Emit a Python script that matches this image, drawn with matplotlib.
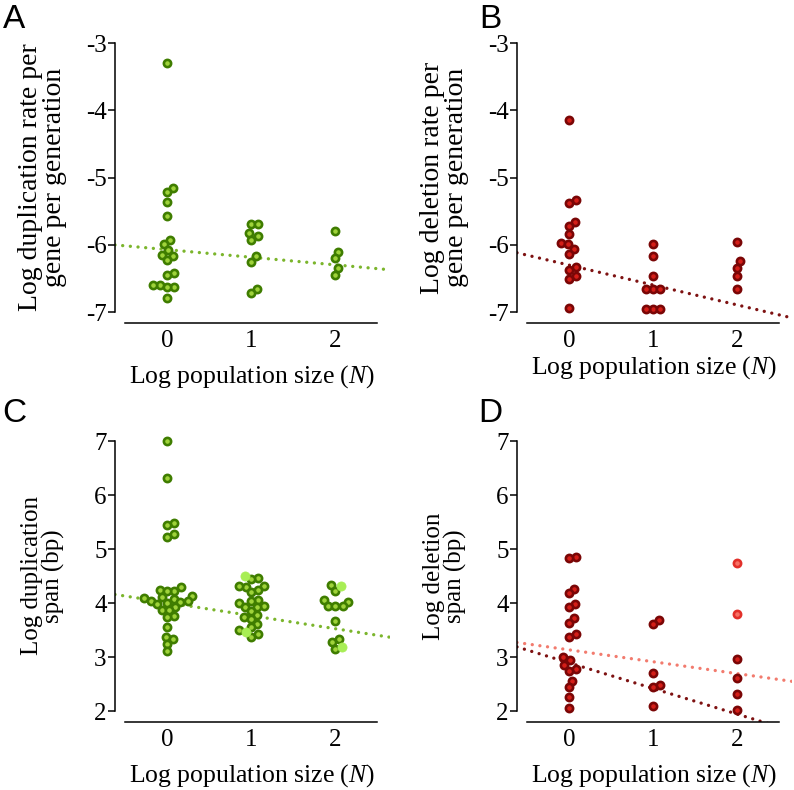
import numpy as np
import matplotlib
matplotlib.use('Agg')
import matplotlib.pyplot as plt

plt.rcParams['font.family'] = ['Liberation Serif', 'DejaVu Serif']
plt.rcParams['mathtext.fontset'] = 'custom'
plt.rcParams['mathtext.rm'] = 'Liberation Serif'
plt.rcParams['mathtext.it'] = 'Liberation Serif:italic'
plt.rcParams['axes.unicode_minus'] = False

# values (log10 scale), grouped by log population size
dup_rate_n0 = [-3.30, -5.16, -5.22, -5.36, -5.57, -5.93, -5.99, -6.08, -6.15, -6.16,
               -6.23, -6.42, -6.45, -6.59, -6.59, -6.62, -6.63, -6.79]
dup_rate_n1 = [-5.69, -5.69, -5.82, -5.87, -5.92, -6.17, -6.25, -6.65, -6.71]
dup_rate_n2 = [-5.80, -6.10, -6.20, -6.35, -6.45]

del_rate_n0 = [-4.15, -5.33, -5.37, -5.66, -5.72, -5.84, -5.97, -5.99, -6.06, -6.14,
               -6.33, -6.37, -6.46, -6.50, -6.93]
del_rate_n1 = [-5.99, -6.16, -6.46, -6.65, -6.65, -6.65, -6.95, -6.95, -6.95]
del_rate_n2 = [-5.96, -6.24, -6.34, -6.46, -6.65]

dup_span_n0 = [7.00, 6.32, 5.48, 5.45, 5.27, 5.22, 4.29, 4.24, 4.23, 4.22, 4.13, 4.11,
               4.09, 4.07, 4.03, 4.03, 4.02, 4.01, 3.99, 3.93, 3.88, 3.87, 3.76, 3.74,
               3.56, 3.38, 3.33, 3.25, 3.11]
dup_span_n1 = [4.47, 4.44, 4.31, 4.30, 4.31, 4.24, 4.20, 4.06, 4.04, 4.00, 3.95, 3.93,
               3.93, 3.85, 3.78, 3.74, 3.70, 3.62, 3.55, 3.50, 3.42, 3.37]
dup_span_n1_light = [4.50, 3.46]
dup_span_n2 = [4.33, 4.22, 4.05, 4.02, 3.94, 3.94, 3.94, 3.67, 3.34, 3.28, 3.16]
dup_span_n2_light = [4.31, 3.19]

del_span_n0 = [4.85, 4.83, 4.27, 4.18, 3.99, 3.92, 3.73, 3.64, 3.42, 3.38, 3.00, 2.94,
               2.85, 2.78, 2.75, 2.56, 2.44, 2.27, 2.05]
del_span_n1 = [3.69, 3.61, 2.71, 2.48, 2.44, 2.10]
del_span_n2 = [2.96, 2.61, 2.31, 2.02]
del_span_n2_light = [4.75, 3.80]

# regression lines: (intercept, slope)
fit_dup_rate = (-6.07, -0.113)
fit_del_rate = (-6.30, -0.296)
fit_dup_span = (4.01, -0.242)
fit_del_span = (2.895, -0.475)
fit_del_span_light = (3.135, -0.22)

W, H = 794, 790
fig = plt.figure(figsize=(W / 100, H / 100), dpi=100)

GREEN = dict(face='#9fd33a', edge='#3f7d00')
GREEN_LIGHT = '#a8ee55'
RED = dict(face='#d41e18', edge='#7a0606')
RED_LIGHT = dict(face='#f77265', edge='#e2302a')
SERIF = ['Liberation Serif', 'DejaVu Serif']


def make_axes(left, top, bottom, ylim, yticks):
    # pixel box -> figure fraction
    ax = fig.add_axes([left / W, 1 - bottom / H, 275 / W, (bottom - top) / H])
    ax.set_xlim(-0.62, 2.65)
    ax.set_ylim(*ylim)
    for s in ['top', 'right']:
        ax.spines[s].set_visible(False)
    ax.spines['left'].set_bounds(yticks[0], yticks[-1])
    ax.spines['bottom'].set_bounds(-0.5, 2.5)
    ax.spines['left'].set_linewidth(1.1)
    ax.spines['bottom'].set_linewidth(1.1)
    ax.set_yticks(yticks)
    ax.set_yticklabels([str(t) for t in yticks])
    ax.set_xticks([0, 1, 2])
    ax.tick_params(axis='y', length=5, width=1.1, pad=1, labelsize=18,
                   labelfontfamily=SERIF)
    ax.tick_params(axis='x', length=0, pad=5, labelsize=18, labelfontfamily=SERIF)
    ax.patch.set_visible(False)
    return ax


def swarm(ax, x0, vals, d=7.2):
    pts = ax.transData.transform(np.column_stack([np.full(len(vals), x0), vals]))
    placed = []
    off = np.zeros(len(vals))
    for i in np.argsort(pts[:, 1]):
        y = pts[i, 1]
        cands = [0.0]
        for px, py in placed:
            dy = abs(py - y)
            if dy < d:
                dx = np.sqrt(d * d - dy * dy)
                cands += [px + dx, px - dx]
        cands.sort(key=abs)
        for c in cands:
            if all((c - px) ** 2 + (y - py) ** 2 >= d * d - 1e-6 for px, py in placed):
                break
        placed.append((c, y))
        off[i] = c
    xs = pts[:, 0] + off
    return ax.transData.inverted().transform(np.column_stack([xs, pts[:, 1]]))[:, 0]


def draw_group(ax, x0, vals, style, light=None, light_style=None):
    light = light or []
    allv = list(vals) + list(light)
    xs = swarm(ax, x0, allv)
    n = len(vals)
    ax.plot(xs[:n], vals, 'o', ms=5.2, mfc=style['face'], mec=style['edge'],
            mew=1.9, clip_on=False, zorder=3)
    if light:
        if isinstance(light_style, str):
            ax.plot(xs[n:], light, 'o', ms=6.6, mfc=light_style, mec=light_style,
                    mew=0.5, clip_on=False, zorder=3)
        else:
            ax.plot(xs[n:], light, 'o', ms=5.2, mfc=light_style['face'],
                    mec=light_style['edge'], mew=1.9, clip_on=False, zorder=3)


def fit_line(ax, fit, color):
    xx = np.array(ax.get_xlim())
    ax.plot(xx, fit[0] + fit[1] * xx, color=color, lw=2.4,
            linestyle=(0, (0.01, 2.3)), dash_capstyle='round', zorder=2)


def labels(ax, ylab, ylab_x, xlab_y, ysize=18):
    ax.text(ylab_x, 0.52, ylab, transform=ax.transAxes, rotation=90,
            ha='center', va='center', fontsize=ysize, linespacing=0.95,
            multialignment='center')
    ax.text(0.5, xlab_y, 'Log population size ($\\mathit{N}$)',
            transform=ax.transAxes, ha='center', va='center', fontsize=18.5)


# A
axA = make_axes(115, 43, 323, (-7.16, -3), [-7, -6, -5, -4, -3])
fit_line(axA, fit_dup_rate, '#7bb52c')
draw_group(axA, 0, dup_rate_n0, GREEN)
draw_group(axA, 1, dup_rate_n1, GREEN)
draw_group(axA, 2, dup_rate_n2, GREEN)
labels(axA, 'Log duplication rate per\ngene per generation', -0.262, -0.19, 20)

# B
axB = make_axes(517, 43, 323, (-7.16, -3), [-7, -6, -5, -4, -3])
fit_line(axB, fit_del_rate, '#7e1212')
draw_group(axB, 0, del_rate_n0, RED)
draw_group(axB, 1, del_rate_n1, RED)
draw_group(axB, 2, del_rate_n2, RED)
labels(axB, 'Log deletion rate per\ngene per generation', -0.262, -0.158, 20)

# C
axC = make_axes(115, 441, 722, (1.8, 7), [2, 3, 4, 5, 6, 7])
fit_line(axC, fit_dup_span, '#7bb52c')
draw_group(axC, 0, dup_span_n0, GREEN)
draw_group(axC, 1, dup_span_n1, GREEN, dup_span_n1_light, GREEN_LIGHT)
draw_group(axC, 2, dup_span_n2, GREEN, dup_span_n2_light, GREEN_LIGHT)
labels(axC, 'Log duplication\nspan (bp)', -0.262, -0.19)

# D
axD = make_axes(517, 441, 722, (1.8, 7), [2, 3, 4, 5, 6, 7])
fit_line(axD, fit_del_span_light, '#f27b6e')
fit_line(axD, fit_del_span, '#7e1212')
draw_group(axD, 0, del_span_n0, RED)
draw_group(axD, 1, del_span_n1, RED)
draw_group(axD, 2, del_span_n2, RED, del_span_n2_light, RED_LIGHT)
labels(axD, 'Log deletion\nspan (bp)', -0.262, -0.19)

for letter, (px, py) in zip('ABCD', [(14, 19), (490, 19), (14, 413), (490, 413)]):
    fig.text(px / W, 1 - py / H, letter, ha='center', va='center', fontsize=24,
             family=['Liberation Sans', 'DejaVu Sans'])

fig.savefig('out.png', dpi=100)
